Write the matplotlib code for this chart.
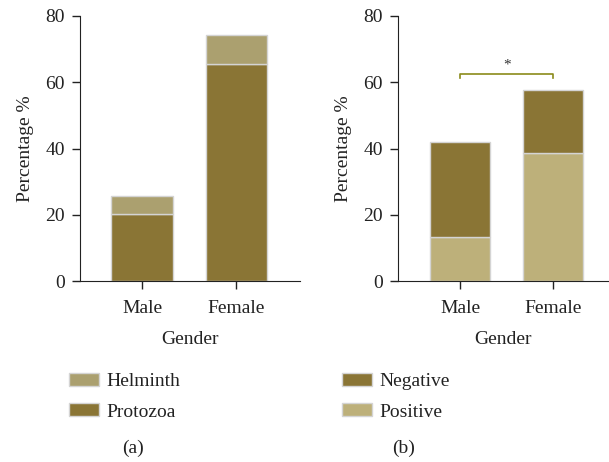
import numpy as np
import matplotlib.pyplot as plt
from matplotlib.patches import Patch

plt.rcParams['font.family'] = ['Liberation Serif', 'DejaVu Serif']
plt.rcParams['font.size'] = 14

genders = ['Male', 'Female']
protozoa = [20.2, 65.5]
helminth = [5.5, 8.8]      # stacked on top of protozoa
positive = [13.3, 38.7]
negative = [28.7, 19.0]    # stacked on top of positive

dark = '#8a7535'
light_a = '#aba06f'
light_b = '#bdb07a'
edge = '#d4d4d4'
ink = '#222222'

fig = plt.figure(figsize=(6.09, 4.62), dpi=100)
W, H = 609, 462
ax1 = fig.add_axes([80 / W, 1 - 281 / H, 220 / W, 265 / H])
ax2 = fig.add_axes([398 / W, 1 - 281 / H, 210 / W, 265 / H])

x = np.arange(len(genders))
w = 0.65

ax1.bar(x, protozoa, w, color=dark, edgecolor=edge, linewidth=1)
ax1.bar(x, helminth, w, bottom=protozoa, color=light_a, edgecolor=edge, linewidth=1)
ax1.set_xlim(-0.66, 1.68)

ax2.bar(x, positive, w, color=light_b, edgecolor=edge, linewidth=1)
ax2.bar(x, negative, w, bottom=positive, color=dark, edgecolor=edge, linewidth=1)
ax2.set_xlim(-0.667, 1.59)

# significance bracket
yb, yd = 62.5, 61.2
ax2.plot([0, 0, 1, 1], [yd, yb, yb, yd], color='#8b8b1a', lw=1.2, clip_on=False)
ax2.text(0.5, yb + 0.6, '*', ha='center', va='bottom', fontsize=11, color='#333333')

for ax in (ax1, ax2):
    ax.set_ylim(0, 80)
    ax.set_yticks([0, 20, 40, 60, 80])
    ax.set_xticks(x)
    ax.set_xticklabels(genders)
    ax.spines['top'].set_visible(False)
    ax.spines['right'].set_visible(False)
    ax.spines['left'].set_color(ink)
    ax.spines['bottom'].set_color(ink)
    ax.tick_params(axis='y', length=6, width=1, color=ink, labelcolor=ink, pad=5)
    ax.tick_params(axis='x', length=6, width=1, color=ink, labelcolor=ink, pad=8)
    ax.set_xlabel('Gender', color=ink, labelpad=10)
    ax.set_ylabel('Percentage %', color=ink, labelpad=8)

common = dict(loc='upper left', frameon=False, borderaxespad=0, borderpad=0,
              handlelength=1.55, handleheight=0.62, labelspacing=0.68, handletextpad=0.36)
leg1 = fig.legend(handles=[Patch(facecolor=light_a, edgecolor=edge, label='Helminth'),
                           Patch(facecolor=dark, edgecolor=edge, label='Protozoa')],
                  bbox_to_anchor=(69 / W, 1 - 373 / H), **common)
leg2 = fig.legend(handles=[Patch(facecolor=dark, edgecolor=edge, label='Negative'),
                           Patch(facecolor=light_b, edgecolor=edge, label='Positive')],
                  bbox_to_anchor=(342 / W, 1 - 373 / H), **common)
for t in leg1.get_texts() + leg2.get_texts():
    t.set_color(ink)

fig.text(133 / W, 1 - 448 / H, '(a)', ha='center', va='center', color=ink)
fig.text(404 / W, 1 - 448 / H, '(b)', ha='center', va='center', color=ink)

fig.savefig('out.png', dpi=100)
